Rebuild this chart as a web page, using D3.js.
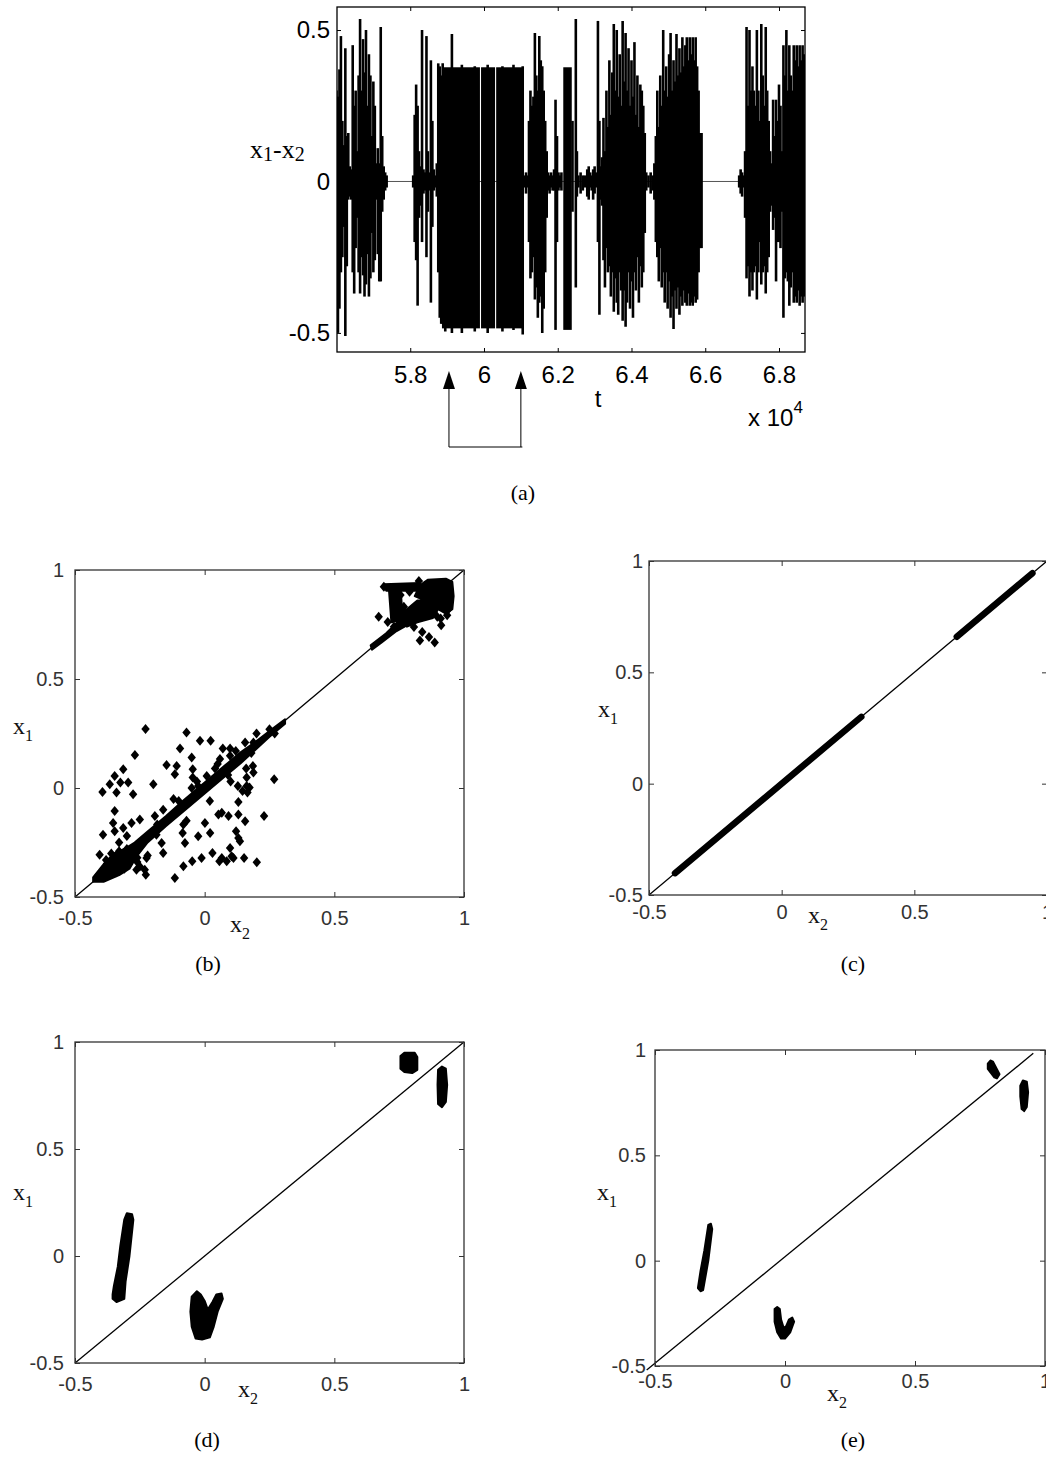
<!DOCTYPE html>
<html>
<head>
<meta charset="utf-8">
<script src="https://cdn.jsdelivr.net/npm/d3@7"></script>
<style>
  body { margin: 0; background: #fff; }
</style>
</head>
<body>
<script>
// ---------- panel (a): x1 - x2 against t (t in units of 10^4) ----------
var tDomain = [5.6014, 6.8705];
var diffDomain = [-0.563, 0.576];
var tTicks = [5.8, 6, 6.2, 6.4, 6.6, 6.8];
var tTickLabels = ["5.8", "6", "6.2", "6.4", "6.6", "6.8"];
var diffTicks = [-0.5, 0, 0.5];
var diffTickLabels = ["-0.5", "0", "0.5"];

// bursts of the signal: [t, upper, lower]
var aSpikes = [
  [5.600, 0.30, -0.48], [5.604, 0.28, -0.50], [5.608, 0.37, -0.42], [5.612, 0.48, -0.30],
  [5.616, 0.20, -0.25], [5.620, 0.12, -0.15], [5.624, 0.44, -0.51], [5.628, 0.15, -0.28],
  [5.632, 0.16, -0.06], [5.636, 0.05, -0.05], [5.640, 0.04, -0.06], [5.644, 0.45, -0.30],
  [5.648, 0.25, -0.37], [5.652, 0.30, -0.22], [5.656, 0.10, -0.12], [5.660, 0.35, -0.30],
  [5.664, 0.536, -0.37], [5.668, 0.30, -0.25], [5.672, 0.47, -0.31], [5.676, 0.36, -0.38],
  [5.680, 0.50, -0.34], [5.684, 0.25, -0.24], [5.688, 0.42, -0.38], [5.692, 0.35, -0.32],
  [5.696, 0.15, -0.17], [5.700, 0.33, -0.30], [5.704, 0.25, -0.26], [5.708, 0.06, -0.06],
  [5.712, 0.11, -0.24], [5.716, 0.06, -0.33], [5.720, 0.51, -0.33], [5.724, 0.15, -0.10],
  [5.728, 0.05, -0.06], [5.732, 0.03, -0.03], [5.736, 0.02, -0.02],
  [5.808, 0.02, -0.02], [5.812, 0.22, -0.20], [5.816, 0.32, -0.26], [5.820, 0.25, -0.41],
  [5.824, 0.10, -0.12], [5.828, 0.05, -0.08], [5.832, 0.50, -0.20], [5.836, 0.04, -0.04],
  [5.840, 0.03, -0.03], [5.844, 0.48, -0.25], [5.848, 0.10, -0.10], [5.852, 0.03, -0.03],
  [5.856, 0.40, -0.40], [5.860, 0.20, -0.15], [5.864, 0.04, -0.03], [5.868, 0.02, -0.02],
  [5.872, 0.06, -0.05], [5.876, 0.39, -0.30], [5.880, 0.38, -0.45], [5.884, 0.35, -0.47],
  [5.888, 0.39, -0.47], [5.895, 0.37, -0.495], [5.913, 0.487, -0.50], [5.940, 0.385, -0.50],
  [5.975, 0.38, -0.495], [6.010, 0.385, -0.50], [6.050, 0.38, -0.495], [6.080, 0.385, -0.49],
  [6.105, 0.38, -0.505],
  [6.110, 0.02, -0.02], [6.114, 0.03, -0.04], [6.118, 0.02, -0.02],
  [6.122, 0.20, -0.20], [6.126, 0.30, -0.32], [6.130, 0.25, -0.30], [6.134, 0.28, -0.25],
  [6.138, 0.49, -0.39], [6.142, 0.35, -0.35], [6.146, 0.30, -0.45], [6.150, 0.48, -0.40],
  [6.154, 0.40, -0.38], [6.158, 0.38, -0.50], [6.162, 0.30, -0.42], [6.166, 0.20, -0.30],
  [6.170, 0.10, -0.12], [6.174, 0.03, -0.03], [6.178, 0.02, -0.04], [6.182, 0.03, -0.02],
  [6.186, 0.02, -0.03], [6.190, 0.04, -0.03], [6.194, 0.27, -0.49], [6.198, 0.15, -0.20],
  [6.202, 0.03, -0.03], [6.206, 0.02, -0.02], [6.210, 0.03, -0.03],
  [6.240, 0.20, -0.10], [6.249, 0.536, -0.35], [6.252, 0.10, -0.05], [6.256, 0.02, -0.02],
  [6.262, 0.03, -0.04], [6.268, 0.02, -0.03], [6.274, 0.02, -0.02], [6.280, 0.04, -0.05],
  [6.284, 0.05, -0.06], [6.288, 0.03, -0.02], [6.292, 0.02, -0.03], [6.296, 0.04, -0.06],
  [6.300, 0.05, -0.04], [6.304, 0.03, -0.02], [6.309, 0.53, -0.20], [6.313, 0.20, -0.44],
  [6.316, 0.05, -0.06],
  [6.320, 0.08, -0.08], [6.324, 0.21, -0.26], [6.328, 0.10, -0.35], [6.332, 0.30, -0.22],
  [6.336, 0.18, -0.30], [6.340, 0.40, -0.28], [6.344, 0.22, -0.38], [6.348, 0.36, -0.30],
  [6.352, 0.52, -0.43], [6.356, 0.30, -0.32], [6.360, 0.50, -0.40], [6.364, 0.28, -0.44],
  [6.368, 0.42, -0.30], [6.372, 0.25, -0.36], [6.376, 0.53, -0.46], [6.380, 0.33, -0.36],
  [6.384, 0.49, -0.48], [6.388, 0.30, -0.40], [6.392, 0.44, -0.30], [6.396, 0.25, -0.42],
  [6.400, 0.40, -0.33], [6.404, 0.28, -0.45], [6.408, 0.46, -0.30], [6.412, 0.22, -0.36],
  [6.416, 0.35, -0.25], [6.420, 0.18, -0.40], [6.424, 0.32, -0.28], [6.428, 0.30, -0.35],
  [6.432, 0.25, -0.30], [6.436, 0.16, -0.17], [6.440, 0.03, -0.03], [6.446, 0.02, -0.02],
  [6.452, 0.03, -0.04], [6.458, 0.02, -0.03],
  [6.462, 0.06, -0.06], [6.466, 0.15, -0.20], [6.470, 0.30, -0.25], [6.474, 0.18, -0.33],
  [6.478, 0.35, -0.22], [6.482, 0.25, -0.35], [6.486, 0.50, -0.30], [6.490, 0.30, -0.40],
  [6.494, 0.38, -0.30], [6.498, 0.28, -0.42], [6.502, 0.42, -0.33], [6.506, 0.49, -0.45],
  [6.510, 0.30, -0.38], [6.514, 0.40, -0.487], [6.518, 0.33, -0.36], [6.522, 0.487, -0.42],
  [6.526, 0.35, -0.35], [6.530, 0.44, -0.44], [6.534, 0.36, -0.38], [6.538, 0.476, -0.41],
  [6.542, 0.38, -0.36], [6.546, 0.45, -0.40], [6.550, 0.476, -0.41], [6.554, 0.40, -0.37],
  [6.558, 0.476, -0.41], [6.562, 0.42, -0.40], [6.566, 0.476, -0.41], [6.570, 0.40, -0.38],
  [6.574, 0.476, -0.40], [6.578, 0.38, -0.39], [6.582, 0.30, -0.30], [6.586, 0.16, -0.22],
  [6.590, 0.16, -0.22],
  [6.692, 0.02, -0.02], [6.696, 0.04, -0.04], [6.700, 0.03, -0.05], [6.704, 0.02, -0.02],
  [6.708, 0.10, -0.12], [6.712, 0.51, -0.32], [6.716, 0.25, -0.28], [6.720, 0.50, -0.38],
  [6.724, 0.30, -0.30], [6.728, 0.38, -0.36], [6.732, 0.30, -0.30], [6.736, 0.25, -0.28],
  [6.740, 0.50, -0.39], [6.744, 0.30, -0.30], [6.748, 0.20, -0.20], [6.752, 0.52, -0.34],
  [6.756, 0.35, -0.30], [6.760, 0.25, -0.28], [6.764, 0.51, -0.37], [6.768, 0.30, -0.30],
  [6.772, 0.20, -0.25], [6.776, 0.10, -0.10], [6.780, 0.06, -0.08], [6.784, 0.27, -0.16],
  [6.788, 0.15, -0.12], [6.792, 0.27, -0.33], [6.796, 0.20, -0.20], [6.800, 0.32, -0.20],
  [6.804, 0.25, -0.22], [6.808, 0.10, -0.10], [6.812, 0.45, -0.45], [6.816, 0.35, -0.32],
  [6.820, 0.50, -0.30], [6.824, 0.30, -0.33], [6.828, 0.45, -0.41], [6.832, 0.35, -0.35],
  [6.836, 0.30, -0.30], [6.840, 0.45, -0.40], [6.844, 0.40, -0.38], [6.848, 0.45, -0.40],
  [6.852, 0.38, -0.36], [6.856, 0.45, -0.41], [6.860, 0.40, -0.38], [6.864, 0.45, -0.40],
  [6.868, 0.42, -0.38]
];
// solid stretches: [tStart, tEnd, upper, lower]
var aBlocks = [
  [5.886, 5.989, 0.377, -0.485],
  [5.992, 6.030, 0.377, -0.485],
  [6.033, 6.108, 0.377, -0.485],
  [6.215, 6.238, 0.377, -0.490]
];
var arrowT = [5.905, 6.100];

// ---------- panels (b)-(e): x1 against x2 ----------
var phaseTicks = [-0.5, 0, 0.5, 1];
var phaseTickLabels = ["-0.5", "0", "0.5", "1"];
var unitDiag = [[-0.5, -0.5], [1, 1]];

var bBlobs = [
  [[-0.43, -0.41], [-0.39, -0.35], [-0.35, -0.30], [-0.31, -0.28], [-0.27, -0.25], [-0.22, -0.20],
   [-0.15, -0.13], [-0.08, -0.055], [0.0, 0.025], [0.08, 0.105], [0.14, 0.165], [0.20, 0.215],
   [0.26, 0.27], [0.31, 0.315], [0.31, 0.295], [0.25, 0.235], [0.20, 0.18], [0.14, 0.115],
   [0.08, 0.055], [0.0, -0.025], [-0.08, -0.105], [-0.15, -0.175], [-0.22, -0.25], [-0.26, -0.31],
   [-0.29, -0.37], [-0.33, -0.40], [-0.39, -0.43], [-0.43, -0.43]],
  [[0.64, 0.655], [0.70, 0.71], [0.76, 0.78], [0.80, 0.80], [0.80, 0.76], [0.74, 0.72], [0.68, 0.665], [0.645, 0.635]],
  [[0.83, 0.93], [0.86, 0.955], [0.93, 0.96], [0.955, 0.945], [0.96, 0.88], [0.955, 0.82],
   [0.93, 0.80], [0.90, 0.82], [0.86, 0.84], [0.83, 0.87], [0.81, 0.88]],
  [[0.69, 0.935], [0.83, 0.94], [0.83, 0.905], [0.70, 0.905]],
  [[0.71, 0.92], [0.755, 0.92], [0.76, 0.84], [0.78, 0.80], [0.76, 0.77], [0.72, 0.76]],
  [[0.76, 0.80], [0.82, 0.86], [0.86, 0.86], [0.90, 0.82], [0.88, 0.78], [0.82, 0.76], [0.78, 0.74]]
];
var bPoints = [
  [-0.228, 0.271], [-0.070, 0.255], [-0.018, 0.217], [0.023, 0.217], [-0.095, 0.181], [-0.050, 0.140],
  [0.070, 0.181], [0.098, 0.181], [0.059, 0.133], [0.098, 0.148], [0.156, 0.209], [0.188, 0.209],
  [-0.147, 0.105], [-0.108, 0.101], [-0.269, 0.151], [-0.314, 0.086], [-0.347, 0.055], [-0.366, 0.017],
  [-0.394, -0.018], [-0.325, 0.025], [-0.295, 0.025], [-0.340, -0.021], [-0.276, -0.029], [-0.198, 0.017],
  [-0.115, 0.063], [-0.046, 0.048], [-0.046, 0.086], [0.008, 0.055], [-0.347, -0.106], [-0.353, -0.160],
  [-0.347, -0.198], [-0.392, -0.214], [-0.314, -0.183], [-0.282, -0.160], [-0.250, -0.144], [-0.192, -0.129],
  [-0.183, -0.167], [-0.186, -0.214], [-0.166, -0.252], [-0.405, -0.306], [-0.160, -0.298], [-0.224, -0.321],
  [-0.231, -0.375], [-0.227, -0.398], [-0.263, -0.375],
  [-0.025, 0.009], [0.128, 0.009], [0.162, 0.009], [0.162, 0.048], [0.188, 0.071], [0.186, 0.101],
  [0.268, 0.040], [0.173, 0.002], [0.165, -0.021], [0.146, -0.014], [0.130, -0.064], [0.053, -0.121],
  [0.066, -0.114], [0.092, -0.129], [0.130, -0.121], [0.156, -0.152], [0.229, -0.129], [0.001, -0.160],
  [-0.082, -0.167], [-0.085, -0.206], [-0.076, -0.252], [-0.025, -0.221], [0.021, -0.206], [0.121, -0.198],
  [0.130, -0.229], [0.136, -0.244], [0.030, -0.298], [-0.012, -0.321], [-0.048, -0.336], [-0.082, -0.359],
  [-0.115, -0.413], [0.057, -0.336], [0.066, -0.321], [0.098, -0.275], [0.104, -0.313], [0.111, -0.321],
  [0.152, -0.321], [0.201, -0.341], [0.085, -0.336],
  [0.05, 0.11], [0.12, 0.17], [0.20, 0.25], [0.25, 0.27], [-0.05, 0.0], [-0.12, -0.05], [-0.16, -0.10],
  [-0.30, -0.22], [-0.33, -0.25], [0.10, 0.03], [0.16, 0.09], [0.02, -0.06], [-0.07, -0.15],
  [-0.22, -0.31], [-0.26, -0.34],
  [-0.38, -0.33], [-0.36, -0.30], [-0.33, -0.29], [-0.30, -0.28], [-0.28, -0.30], [-0.26, -0.32],
  [-0.25, -0.36], [-0.31, -0.37], [-0.37, -0.39], [-0.41, -0.40], [-0.34, -0.35], [-0.29, -0.34],
  [-0.10, -0.06], [-0.03, 0.03], [0.04, 0.09], [0.09, 0.06], [0.18, 0.16], [0.27, 0.25],
  [0.671, 0.785], [0.706, 0.762], [0.691, 0.923], [0.826, 0.949], [0.830, 0.677], [0.865, 0.693],
  [0.887, 0.667], [0.807, 0.739], [0.839, 0.716], [0.897, 0.785], [0.912, 0.747], [0.935, 0.793],
  [0.910, 0.777], [0.865, 0.831], [0.755, 0.885], [0.768, 0.831], [0.73, 0.74], [0.79, 0.90],
  [0.94, 0.82], [0.88, 0.80]
];

// panel (c): points lie on the diagonal between these x2 values
var cSegments = [[-0.402, 0.300], [0.660, 0.945]];

var dBlobs = [
  [[-0.355, -0.20], [-0.34, -0.215], [-0.31, -0.20], [-0.305, -0.12], [-0.29, 0.0], [-0.275, 0.17],
   [-0.28, 0.195], [-0.30, 0.20], [-0.31, 0.17], [-0.325, 0.05], [-0.335, -0.05], [-0.35, -0.14], [-0.355, -0.18]],
  [[-0.05, -0.19], [-0.03, -0.165], [-0.015, -0.18], [0.0, -0.21], [0.012, -0.25], [0.03, -0.215],
   [0.045, -0.18], [0.065, -0.175], [0.07, -0.20], [0.05, -0.26], [0.035, -0.33], [0.02, -0.38],
   [-0.01, -0.39], [-0.035, -0.385], [-0.05, -0.33], [-0.055, -0.26]],
  [[0.755, 0.935], [0.77, 0.95], [0.81, 0.95], [0.82, 0.93], [0.82, 0.87], [0.80, 0.855], [0.77, 0.86], [0.755, 0.875]],
  [[0.90, 0.87], [0.915, 0.885], [0.93, 0.875], [0.935, 0.80], [0.93, 0.72], [0.915, 0.695], [0.90, 0.71], [0.898, 0.80]]
];

var eBlobs = [
  [[-0.335, -0.13], [-0.325, -0.145], [-0.315, -0.14], [-0.295, 0.0], [-0.28, 0.15], [-0.285, 0.175],
   [-0.295, 0.17], [-0.31, 0.05], [-0.325, -0.05]],
  [[-0.04, -0.23], [-0.03, -0.22], [-0.02, -0.23], [-0.015, -0.28], [-0.005, -0.32], [0.005, -0.31],
   [0.015, -0.28], [0.028, -0.27], [0.035, -0.29], [0.02, -0.34], [0.0, -0.37], [-0.015, -0.37],
   [-0.03, -0.34], [-0.04, -0.29]],
  [[0.78, 0.935], [0.79, 0.95], [0.80, 0.945], [0.825, 0.885], [0.815, 0.865], [0.805, 0.87], [0.78, 0.91]],
  [[0.905, 0.83], [0.915, 0.855], [0.93, 0.85], [0.935, 0.80], [0.93, 0.73], [0.92, 0.71], [0.91, 0.72], [0.905, 0.78]]
];
var eDiag = [[-0.532, -0.519], [0.955, 0.984]];

// ---------- drawing ----------
var svg = d3.select("body").append("svg")
  .attr("width", 1046)
  .attr("height", 1457);

var sans = "'Liberation Sans', Arial, Helvetica, sans-serif";
var serif = "'Liberation Serif', 'Times New Roman', serif";

function styleAxis(g, size, color) {
  g.select(".domain").remove();
  g.attr("font-family", sans).attr("font-size", size);
  g.selectAll(".tick line").attr("stroke", color);
  g.selectAll(".tick text").attr("fill", color);
}

// panel (a)
var ax = d3.scaleLinear().domain(tDomain).range([337, 805]);
var ay = d3.scaleLinear().domain(diffDomain).range([352, 7]);
var ga = svg.append("g");

svg.append("clipPath").attr("id", "clipA")
  .append("rect").attr("x", 337).attr("y", 7).attr("width", 468).attr("height", 345);

var plotA = ga.append("g").attr("clip-path", "url(#clipA)");
plotA.append("line")
  .attr("x1", ax(tDomain[0])).attr("x2", ax(tDomain[1]))
  .attr("y1", ay(0)).attr("y2", ay(0))
  .attr("stroke", "#555").attr("stroke-width", 1);

plotA.selectAll("rect.blk").data(aBlocks).join("rect")
  .attr("class", "blk")
  .attr("x", d => ax(d[0]))
  .attr("width", d => ax(d[1]) - ax(d[0]))
  .attr("y", d => ay(d[2]))
  .attr("height", d => ay(d[3]) - ay(d[2]))
  .attr("fill", "#000");

plotA.selectAll("line.spk").data(aSpikes).join("line")
  .attr("class", "spk")
  .attr("x1", d => ax(d[0])).attr("x2", d => ax(d[0]))
  .attr("y1", d => ay(d[1])).attr("y2", d => ay(d[2]))
  .attr("stroke", "#000").attr("stroke-width", 2.6);

ga.append("g").attr("transform", "translate(0,352)")
  .call(d3.axisBottom(ax).tickValues(tTicks).tickFormat((d, i) => tTickLabels[i])
    .tickSizeInner(-4).tickSizeOuter(0).tickPadding(14))
  .call(g => styleAxis(g, 24, "#000"));
ga.append("g").attr("transform", "translate(0,7)")
  .call(d3.axisTop(ax).tickValues(tTicks).tickFormat("").tickSizeInner(-4).tickSizeOuter(0))
  .call(g => styleAxis(g, 24, "#000"));
ga.append("g").attr("transform", "translate(337,0)")
  .call(d3.axisLeft(ay).tickValues(diffTicks).tickFormat((d, i) => diffTickLabels[i])
    .tickSizeInner(-4).tickSizeOuter(0).tickPadding(7))
  .call(g => styleAxis(g, 24, "#000"));
ga.append("g").attr("transform", "translate(805,0)")
  .call(d3.axisRight(ay).tickValues(diffTicks).tickFormat("").tickSizeInner(-4).tickSizeOuter(0))
  .call(g => styleAxis(g, 24, "#000"));

ga.append("rect").attr("x", 337).attr("y", 7).attr("width", 468).attr("height", 345)
  .attr("fill", "none").attr("stroke", "#000").attr("stroke-width", 1.3);

var yLab = ga.append("text").attr("x", 250).attr("y", 158)
  .attr("font-family", serif).attr("font-size", 26);
yLab.append("tspan").text("x");
yLab.append("tspan").attr("font-size", 20).attr("dy", 3).text("1");
yLab.append("tspan").attr("dy", -3).text("-x");
yLab.append("tspan").attr("font-size", 20).attr("dy", 3).text("2");

ga.append("text").attr("x", 598).attr("y", 407).attr("text-anchor", "middle")
  .attr("font-family", sans).attr("font-size", 24).text("t");
var expLab = ga.append("text").attr("x", 748).attr("y", 426)
  .attr("font-family", sans).attr("font-size", 24);
expLab.append("tspan").text("x 10");
expLab.append("tspan").attr("font-size", 17).attr("dy", -13).text("4");

// arrows marking the window
arrowT.forEach(function (t) {
  var xa = ax(t);
  ga.append("line").attr("x1", xa).attr("x2", xa).attr("y1", 388).attr("y2", 447)
    .attr("stroke", "#000").attr("stroke-width", 1);
  ga.append("path").attr("d", "M" + xa + ",371L" + (xa + 6) + ",389L" + (xa - 6) + ",389Z")
    .attr("fill", "#000");
});
ga.append("line").attr("x1", ax(arrowT[0])).attr("x2", ax(arrowT[1]) + 1.5)
  .attr("y1", 447).attr("y2", 447).attr("stroke", "#000").attr("stroke-width", 1);

ga.append("text").attr("x", 523).attr("y", 500).attr("text-anchor", "middle")
  .attr("font-family", serif).attr("font-size", 22).text("(a)");

// phase panels
var panels = [
  { id: "b", left: 75, right: 464, top: 570, bottom: 897, xPad: 14, yPad: 11,
    x1Lab: [13, 734], x2Lab: [230, 932], cap: [208, 971],
    blobs: bBlobs, points: bPoints, segs: [], diag: unitDiag },
  { id: "c", left: 649, right: 1047, top: 561, bottom: 895, xPad: 10, yPad: 6,
    x1Lab: [598, 717], x2Lab: [808, 923], cap: [853, 971],
    blobs: [], points: [], segs: cSegments, diag: unitDiag },
  { id: "d", left: 75, right: 464, top: 1042, bottom: 1363, xPad: 14, yPad: 11,
    x1Lab: [13, 1200], x2Lab: [238, 1397], cap: [207, 1447],
    blobs: dBlobs, points: [], segs: [], diag: unitDiag },
  { id: "e", left: 655, right: 1045, top: 1050, bottom: 1366, xPad: 8, yPad: 9,
    x1Lab: [597, 1200], x2Lab: [827, 1401], cap: [853, 1447],
    blobs: eBlobs, points: [], segs: [], diag: eDiag }
];

var diamond = "M0,-5L4.2,0L0,5L-4.2,0Z";
var grey = "#333";

panels.forEach(function (p) {
  var x = d3.scaleLinear().domain([-0.5, 1]).range([p.left, p.right]);
  var y = d3.scaleLinear().domain([-0.5, 1]).range([p.bottom, p.top]);
  var g = svg.append("g");
  var w = p.right - p.left, h = p.bottom - p.top;

  svg.append("clipPath").attr("id", "clip" + p.id)
    .append("rect").attr("x", p.left).attr("y", p.top).attr("width", w).attr("height", h);
  var plot = g.append("g").attr("clip-path", "url(#clip" + p.id + ")");

  var poly = d3.line().x(d => x(d[0])).y(d => y(d[1])).curve(d3.curveLinearClosed);
  plot.selectAll("path.blob").data(p.blobs).join("path")
    .attr("class", "blob")
    .attr("d", poly)
    .attr("fill", "#000").attr("stroke", "#000").attr("stroke-width", 2).attr("stroke-linejoin", "round");

  plot.selectAll("line.seg").data(p.segs).join("line")
    .attr("class", "seg")
    .attr("x1", d => x(d[0])).attr("y1", d => y(d[0]))
    .attr("x2", d => x(d[1])).attr("y2", d => y(d[1]))
    .attr("stroke", "#000").attr("stroke-width", 6.5).attr("stroke-linecap", "round");

  plot.selectAll("path.pt").data(p.points).join("path")
    .attr("class", "pt")
    .attr("transform", d => "translate(" + x(d[0]) + "," + y(d[1]) + ")")
    .attr("d", diamond).attr("fill", "#000");

  g.append("line")
    .attr("x1", x(p.diag[0][0])).attr("y1", y(p.diag[0][1]))
    .attr("x2", x(p.diag[1][0])).attr("y2", y(p.diag[1][1]))
    .attr("stroke", "#000").attr("stroke-width", 1.3);

  g.append("g").attr("transform", "translate(0," + p.bottom + ")")
    .call(d3.axisBottom(x).tickValues(phaseTicks).tickFormat((d, i) => phaseTickLabels[i])
      .tickSizeInner(-5).tickSizeOuter(0).tickPadding(p.xPad))
    .call(a => styleAxis(a, 20, grey));
  g.append("g").attr("transform", "translate(0," + p.top + ")")
    .call(d3.axisTop(x).tickValues(phaseTicks).tickFormat("").tickSizeInner(-5).tickSizeOuter(0))
    .call(a => styleAxis(a, 20, grey));
  g.append("g").attr("transform", "translate(" + p.left + ",0)")
    .call(d3.axisLeft(y).tickValues(phaseTicks).tickFormat((d, i) => phaseTickLabels[i])
      .tickSizeInner(-5).tickSizeOuter(0).tickPadding(p.yPad))
    .call(a => styleAxis(a, 20, grey));
  g.append("g").attr("transform", "translate(" + p.right + ",0)")
    .call(d3.axisRight(y).tickValues(phaseTicks).tickFormat("").tickSizeInner(-5).tickSizeOuter(0))
    .call(a => styleAxis(a, 20, grey));

  g.append("rect").attr("x", p.left).attr("y", p.top).attr("width", w).attr("height", h)
    .attr("fill", "none").attr("stroke", grey).attr("stroke-width", 1.3);

  [["1", p.x1Lab], ["2", p.x2Lab]].forEach(function (lab) {
    var t = g.append("text").attr("x", lab[1][0]).attr("y", lab[1][1])
      .attr("font-family", serif).attr("font-size", 24).attr("fill", "#111");
    t.append("tspan").text("x");
    t.append("tspan").attr("font-size", 16).attr("dy", 7).text(lab[0]);
  });

  g.append("text").attr("x", p.cap[0]).attr("y", p.cap[1]).attr("text-anchor", "middle")
    .attr("font-family", serif).attr("font-size", 22).text("(" + p.id + ")");
});
</script>
</body>
</html>
